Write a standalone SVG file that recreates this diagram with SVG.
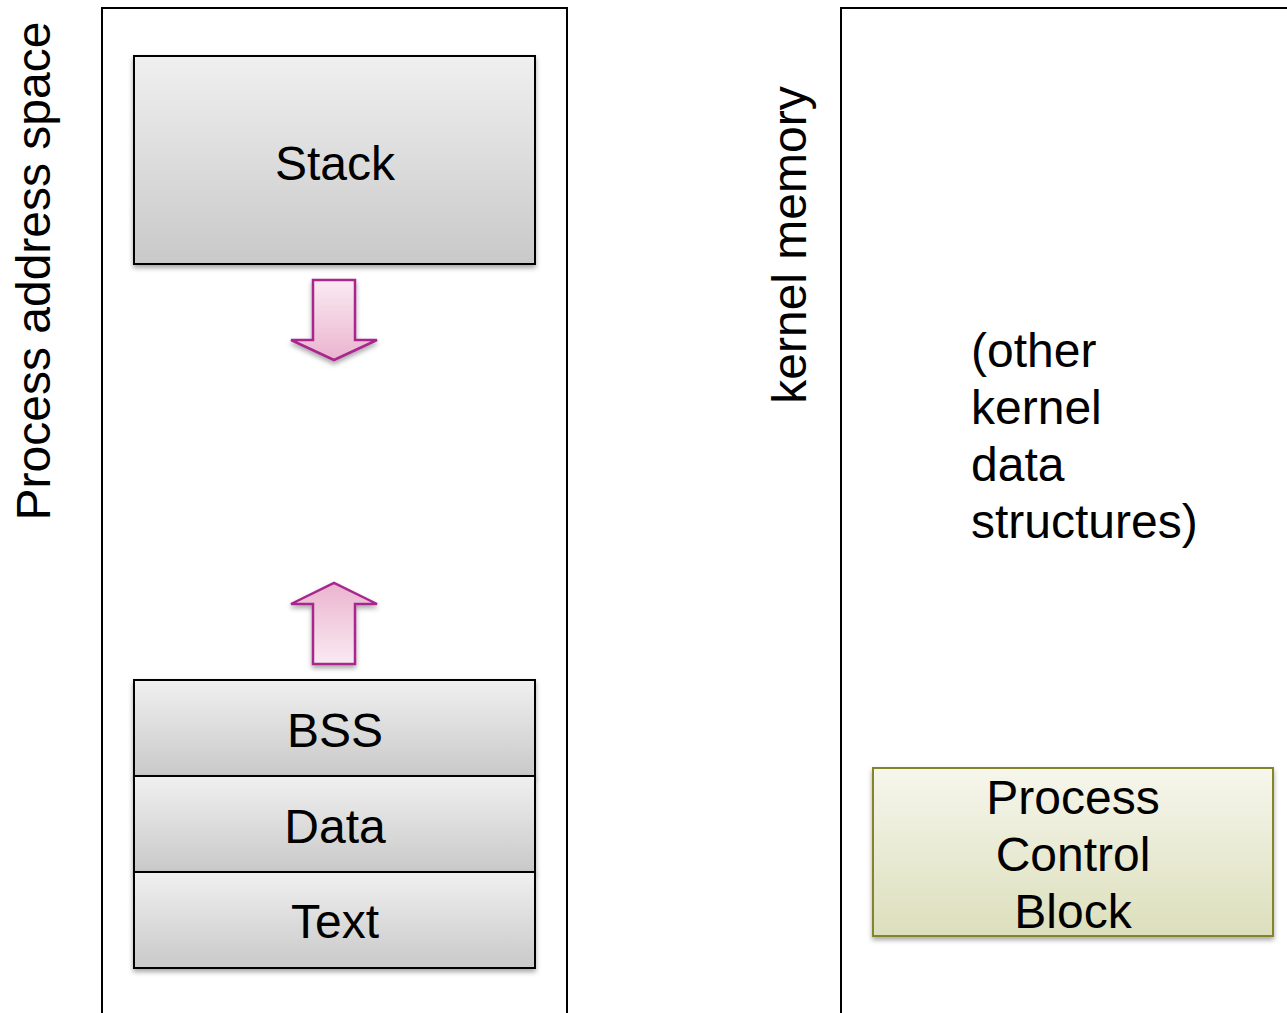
<svg xmlns="http://www.w3.org/2000/svg" width="1287" height="1013" viewBox="0 0 1287 1013">
<style>
text{font-family:"Liberation Sans",Arial,sans-serif;font-size:48px;fill:#000}
.c{text-anchor:middle}
.frame{fill:none;stroke:#000;stroke-width:2}
.seg{fill:url(#grey);stroke:#000;stroke-width:2;filter:url(#sh)}
.arr{fill:url(#pinkDown);stroke:#a8288e;stroke-width:2.5;filter:url(#sh)}
</style>
<defs>
<linearGradient id="grey" x1="0" y1="0" x2="0" y2="1"><stop offset="0" stop-color="#f0f0f0"/><stop offset="1" stop-color="#c9c9c9"/></linearGradient>
<linearGradient id="olive" x1="0" y1="0" x2="0" y2="1"><stop offset="0" stop-color="#f6f6ec"/><stop offset="1" stop-color="#dcdfbc"/></linearGradient>
<linearGradient id="pinkDown" x1="0" y1="0" x2="0" y2="1"><stop offset="0" stop-color="#faeaf2"/><stop offset="1" stop-color="#ebb4cf"/></linearGradient>
<linearGradient id="pinkUp" x1="0" y1="1" x2="0" y2="0"><stop offset="0" stop-color="#faeaf2"/><stop offset="1" stop-color="#ebb4cf"/></linearGradient>
<filter id="sh" x="-10%" y="-10%" width="125%" height="130%"><feDropShadow dx="0" dy="3" stdDeviation="2.5" flood-color="#000" flood-opacity="0.35"/></filter>
</defs>
<rect class="frame" x="102" y="8" width="465" height="1020"/>
<rect class="frame" x="841" y="8" width="470" height="1020"/>
<text class="c" transform="translate(50,271) rotate(-90)">Process address space</text>
<text class="c" transform="translate(806,245) rotate(-90)">kernel memory</text>
<g id="stack"><rect class="seg" x="134" y="56" width="401" height="208"/><text class="c" x="335" y="180">Stack</text></g>
<g id="bss"><rect class="seg" x="134" y="680" width="401" height="96"/><text class="c" x="335" y="747">BSS</text></g>
<g id="data"><rect class="seg" x="134" y="776" width="401" height="96"/><text class="c" x="335" y="843">Data</text></g>
<g id="text"><rect class="seg" x="134" y="872" width="401" height="96"/><text class="c" x="335" y="938">Text</text></g>
<g id="connectors">
<path class="arr" d="M313,280 H355 V340 H377 L334,360 L291,340 H313 Z"/>
<path class="arr" style="fill:url(#pinkUp)" d="M313,664 H355 V604 H377 L334,583 L291,604 H313 Z"/>
</g>
<g id="other"><text x="971" y="367">(other</text><text x="971" y="424">kernel</text><text x="971" y="481">data</text><text x="971" y="538">structures)</text></g>
<g id="pcb"><rect x="873" y="768" width="400" height="168" style="fill:url(#olive);stroke:#84842a;stroke-width:2;filter:url(#sh)"/><text class="c" x="1073" y="814">Process</text><text class="c" x="1073" y="871">Control</text><text class="c" x="1073" y="928">Block</text></g>
</svg>
